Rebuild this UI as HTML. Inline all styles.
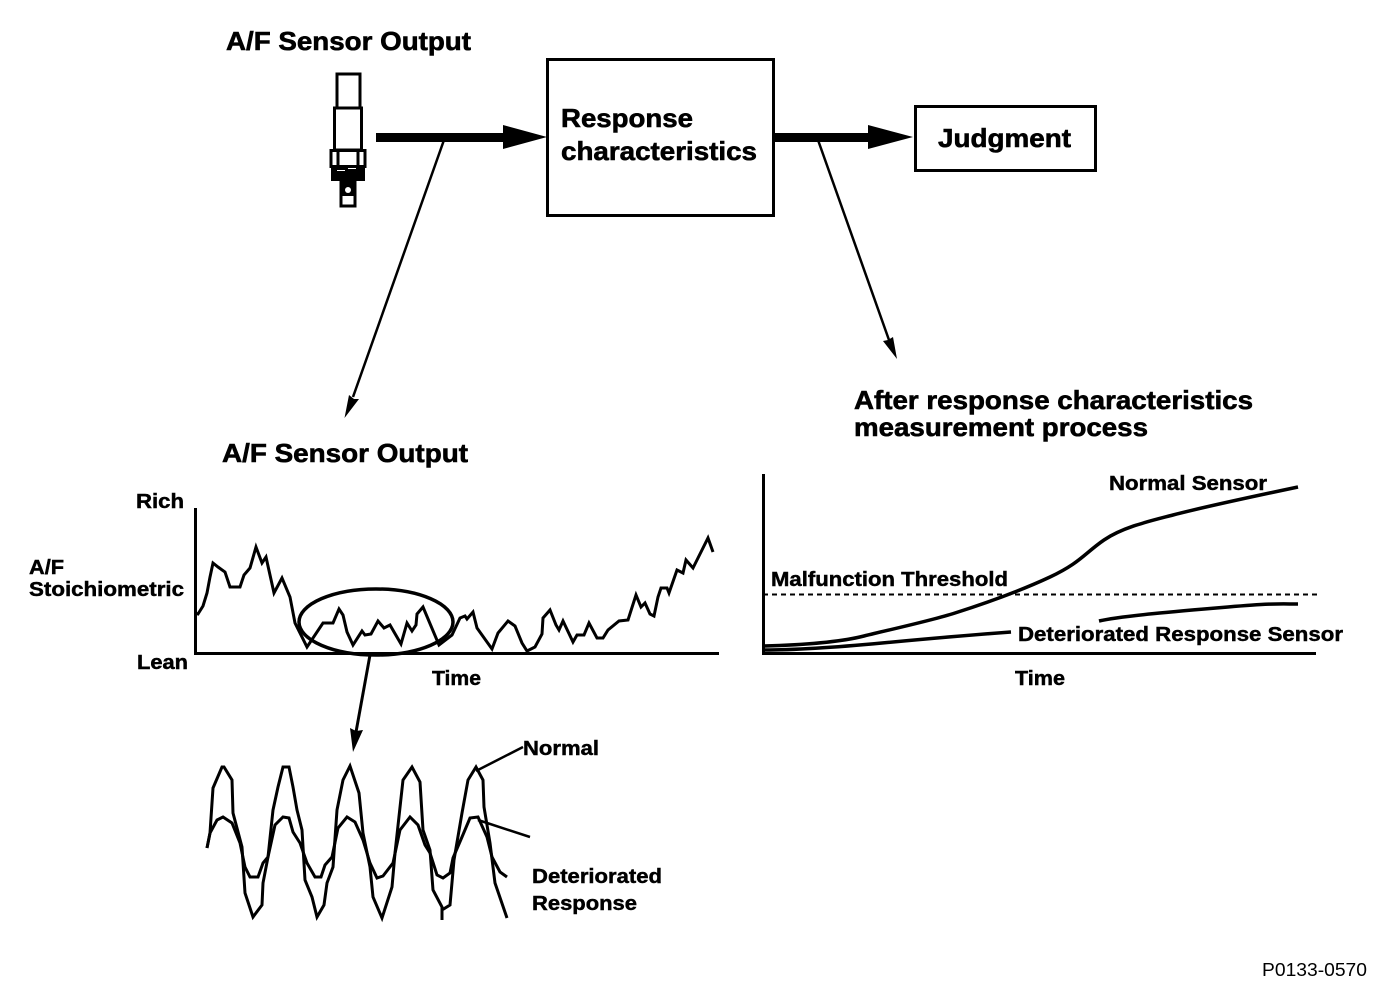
<!DOCTYPE html>
<html><head><meta charset="utf-8"><style>
html,body{margin:0;padding:0;background:#fff;width:1392px;height:992px;overflow:hidden}
svg{display:block}
text{font-family:"Liberation Sans",sans-serif;font-weight:bold;fill:#000;stroke:#000}
.a{font-size:26px;stroke-width:.6px}.b{font-size:20px;stroke-width:.45px}
.t{fill:none;stroke:#000;stroke-linejoin:miter}
</style></head><body>
<svg width="1392" height="992" viewBox="0 0 1392 992" xmlns="http://www.w3.org/2000/svg">
<text class="a" x="226" y="50" textLength="245" lengthAdjust="spacingAndGlyphs">A/F Sensor Output</text>
<text class="a" x="561" y="127" textLength="132" lengthAdjust="spacingAndGlyphs">Response</text>
<text class="a" x="561" y="160" textLength="196" lengthAdjust="spacingAndGlyphs">characteristics</text>
<text class="a" x="938" y="147" textLength="133" lengthAdjust="spacingAndGlyphs">Judgment</text>
<text class="a" x="854" y="409" textLength="399" lengthAdjust="spacingAndGlyphs">After response characteristics</text>
<text class="a" x="854" y="436" textLength="294" lengthAdjust="spacingAndGlyphs">measurement process</text>
<text class="a" x="222" y="462" textLength="246" lengthAdjust="spacingAndGlyphs">A/F Sensor Output</text>
<text class="b" x="136" y="508" textLength="48" lengthAdjust="spacingAndGlyphs">Rich</text>
<text class="b" x="29" y="574" textLength="35" lengthAdjust="spacingAndGlyphs">A/F</text>
<text class="b" x="29" y="596" textLength="155" lengthAdjust="spacingAndGlyphs">Stoichiometric</text>
<text class="b" x="137" y="669" textLength="51" lengthAdjust="spacingAndGlyphs">Lean</text>
<text class="b" x="432" y="685" textLength="49" lengthAdjust="spacingAndGlyphs">Time</text>
<text class="b" x="1015" y="685" textLength="50" lengthAdjust="spacingAndGlyphs">Time</text>
<text class="b" x="1109" y="490" textLength="158" lengthAdjust="spacingAndGlyphs">Normal Sensor</text>
<text class="b" x="771" y="586" textLength="237" lengthAdjust="spacingAndGlyphs">Malfunction Threshold</text>
<text class="b" x="1018" y="641" textLength="325" lengthAdjust="spacingAndGlyphs">Deteriorated Response Sensor</text>
<text class="b" x="523" y="755" textLength="76" lengthAdjust="spacingAndGlyphs">Normal</text>
<text class="b" x="532" y="883" textLength="130" lengthAdjust="spacingAndGlyphs">Deteriorated</text>
<text class="b" x="532" y="910" textLength="105" lengthAdjust="spacingAndGlyphs">Response</text>
<text x="1262" y="976" textLength="105" lengthAdjust="spacingAndGlyphs" style="font-size:18px;font-weight:normal;stroke:none">P0133-0570</text>

<!-- boxes -->
<rect class="t" x="547.5" y="59.5" width="226" height="156" stroke-width="3"/>
<rect class="t" x="915.5" y="106.5" width="180" height="64" stroke-width="3"/>

<!-- thick arrows -->
<rect x="376" y="133" width="130" height="9"/>
<polygon points="503,125 547,137 503,149"/>
<rect x="775" y="133" width="96" height="9"/>
<polygon points="868,125 913,137 868,149"/>

<!-- thin arrows -->
<line class="t" x1="444" y1="140" x2="353" y2="397" stroke-width="2.500"/>
<polygon points="344.500,418 349,395 354,399 359,399"/>
<line class="t" x1="818" y1="140" x2="889" y2="340" stroke-width="2.500"/>
<polygon points="897,359 883,341 888,340 893,337"/>
<line class="t" x1="370" y1="655" x2="356" y2="732" stroke-width="3"/>
<polygon points="353,752 350,728 356,731 363,730"/>

<!-- sensor -->
<rect class="t" stroke-width="3" x="337" y="74" width="23" height="34"/>
<rect class="t" stroke-width="3" x="334.500" y="108" width="27" height="42"/>
<rect class="t" stroke-width="3" x="331" y="150.500" width="34" height="16"/>
<line class="t" stroke-width="3" x1="338" y1="151" x2="338" y2="166"/>
<line class="t" stroke-width="3" x1="358" y1="151" x2="358" y2="166"/>
<rect class="t" stroke-width="3" x="341" y="181" width="14" height="25"/>
<rect x="331" y="167" width="34" height="14"/>
<rect x="341" y="181" width="14" height="15"/>
<circle cx="348" cy="190" r="3" fill="#fff"/>
<rect x="337" y="170" width="8" height="1" fill="#fff"/><rect x="348" y="168" width="8" height="1" fill="#fff"/>

<!-- chart 1 -->
<path class="t" stroke-width="3" d="M195.500 508V653.500H719"/>
<polyline class="t" stroke-width="3" points="195,613 198,614 203,606 207,593 210,577 213,563 218,567 225,572 230,587 240,587 244,575 250,568 256,547 262,563 266,557 274,593 282,578 290,597 295,623 307,647 323,623 333,623 339,609 343,615 347,632 353,645 362,631 365,635 371,634 378,621 384,628 390,625 401,644 407,623 412,631 416,625 417,614 423,607 439,645 452,635 460,618 465,616 467,619 473,612 477,628 492,649 498,633 508,621 515,626 522,643 527,651 535,647 542,634 543,618 550,610 556,625 559,630 563,621 573,642 577,635 584,635 589,623 597,638 603,638 608,630 619,621 628,620 636,595 641,607 645,603 650,614 654,616 658,597 661,588 667,588 669,593 677,570 683,573 686,560 693,568 708,538 713,552"/>
<ellipse class="t" cx="376" cy="622" rx="77" ry="33" stroke-width="3.500"/>

<!-- waves -->
<polyline class="t" stroke-width="3" points="207,848 210,833 213,788 222,767 224,767 232,780 233,813 242,847 245,893 253,917 262,905 263,883 268,857 273,810 278,787 283,767 289,767 293,787 297,810 302,830 305,880 312,897 317,917 324,905 327,883 333,867 337,810 343,780 350,766 359,793 363,833 370,867 373,897 382,918 392,887 395,853 403,780 412,767 420,782 423,830 430,850 433,890 442,907 442,920 442,910 450,905 454,860 462,813 468,780 476,767 483,780 484,807 490,843 495,883 507,918"/>
<polyline class="t" stroke-width="3" points="207,848 210,833 217,820 223,817 232,823 240,843 245,867 250,877 258,877 263,863 268,857 275,825 283,817 289,818 293,832 300,843 307,863 315,877 321,877 325,865 332,857 338,828 347,817 355,822 363,840 370,863 377,878 383,876 393,863 400,830 410,817 418,825 425,845 430,853 437,875 443,878 450,873 453,858 462,837 470,818 478,817 487,837 492,857 500,872 507,877"/>
<line class="t" x1="476" y1="771" x2="523" y2="747" stroke-width="2.500"/>
<line class="t" x1="478" y1="820" x2="530" y2="837" stroke-width="2.500"/>

<!-- chart 2 -->
<path class="t" stroke-width="3" d="M763.500 474V653.500H1316"/>
<line class="t" x1="763" y1="594.500" x2="1318" y2="594.500" stroke-width="2" stroke-dasharray="5 4"/>
<path class="t" stroke-width="3.500" d="M764 646C800 645 840 642 864 636S930 621 955 613S1020 591 1050 577S1085 553 1104 540S1150 521 1173 515S1260 495 1298 487"/>
<path class="t" stroke-width="3.500" d="M764 650C800 650 850 646 882 643S970 635 1011 632"/>
<path class="t" stroke-width="3.500" d="M1099 621C1120 616 1180 611 1228 607S1280 604 1298 604"/>
</svg>
</body></html>
